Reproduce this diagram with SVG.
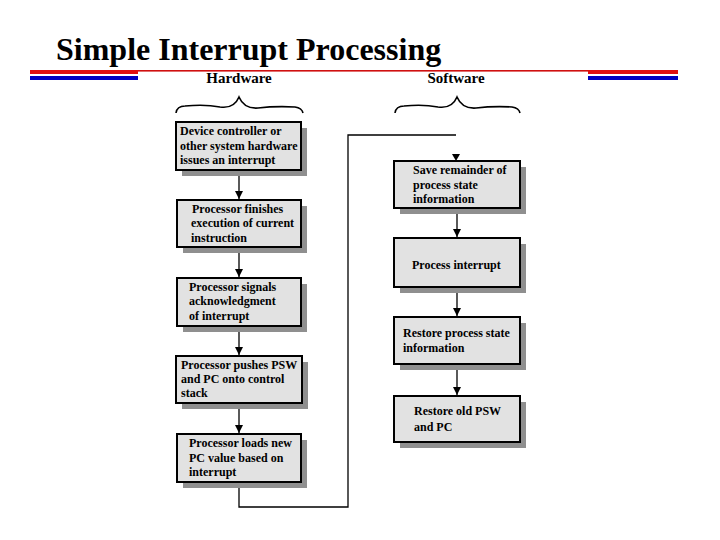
<svg xmlns="http://www.w3.org/2000/svg" width="720" height="540" viewBox="0 0 720 540">
<defs>
<style>
.t{font-family:"Liberation Serif","Times New Roman",serif;font-weight:bold;font-size:12px;fill:#000}
.h{font-family:"Liberation Serif","Times New Roman",serif;font-weight:bold;font-size:15px;fill:#000}
.box{fill:#e2e2e2;stroke:#000;stroke-width:2}
.sh{fill:#8f8f8f}
.c{fill:none;stroke:#000;stroke-width:1.3}
.br{fill:none;stroke:#000;stroke-width:1.6}
</style>
<marker id="a" viewBox="0 0 10 10" refX="10" refY="5" markerWidth="8" markerHeight="8" orient="auto" markerUnits="userSpaceOnUse">
<path d="M0,0 L10,5 L0,10 z" fill="#000"/>
</marker>
</defs>
<rect width="720" height="540" fill="#fff"/>
<text x="56" y="60" style="font-family:'Liberation Serif','Times New Roman',serif;font-weight:bold;font-size:32px">Simple Interrupt Processing</text>
<rect x="30" y="70" width="108" height="4" fill="#e01010"/>
<rect x="30" y="76" width="108" height="4" fill="#0000c0"/>
<rect x="138" y="70" width="450" height="1.6" fill="#d01010"/>
<rect x="588" y="70" width="90" height="4" fill="#e01010"/>
<rect x="588" y="76" width="90" height="4" fill="#0000c0"/>
<text class="h" x="239" y="83" text-anchor="middle">Hardware</text>
<text class="h" x="456" y="83" text-anchor="middle">Software</text>
<path class="br" d="M176,113 Q177,106 185,106 Q205,104 220,107 Q234,109 239,97 Q244,109 258,108 Q275,106 295,107 Q302,108 303,113"/>
<path class="br" d="M395,113 Q396,106 404,106 Q423,104 438,107 Q452,109 457,97 Q462,109 476,108 Q493,106 512,107 Q519,108 520,113"/>
<g id="connectors">
<path class="c" d="M239,170 V199" marker-end="url(#a)"/>
<path class="c" d="M239,248 V277" marker-end="url(#a)"/>
<path class="c" d="M239,326 V355" marker-end="url(#a)"/>
<path class="c" d="M239,404 V433" marker-end="url(#a)"/>
<path class="c" d="M239,482 V507 H348 V135 H456"/>
<path d="M452,154 L460,154 L456,161 z" fill="#000"/>
<path class="c" d="M457,208 V237" marker-end="url(#a)"/>
<path class="c" d="M457,287 V316" marker-end="url(#a)"/>
<path class="c" d="M457,364 V395" marker-end="url(#a)"/>
</g>
<g id="hw1"><rect class="sh" x="182" y="128" width="125" height="48"/><rect class="box" x="176" y="122" width="125" height="48"/>
<text class="t" x="180" y="135">Device controller or</text><text class="t" x="180" y="150">other system hardware</text><text class="t" x="180" y="164">issues an interrupt</text></g>
<g id="hw2"><rect class="sh" x="183" y="206" width="124" height="47"/><rect class="box" x="177" y="200" width="124" height="47"/>
<text class="t" x="192" y="213">Processor finishes</text><text class="t" x="191" y="227">execution of current</text><text class="t" x="191" y="242">instruction</text></g>
<g id="hw3"><rect class="sh" x="183" y="284" width="124" height="48"/><rect class="box" x="177" y="278" width="124" height="48"/>
<text class="t" x="189" y="291">Processor signals</text><text class="t" x="189" y="305">acknowledgment</text><text class="t" x="189" y="320">of interrupt</text></g>
<g id="hw4"><rect class="sh" x="182" y="362" width="126" height="47"/><rect class="box" x="176" y="356" width="126" height="47"/>
<text class="t" x="181" y="369">Processor pushes PSW</text><text class="t" x="181" y="383">and PC onto control</text><text class="t" x="181" y="397">stack</text></g>
<g id="hw5"><rect class="sh" x="183" y="440" width="124" height="48"/><rect class="box" x="177" y="434" width="124" height="48"/>
<text class="t" x="189" y="447">Processor loads new</text><text class="t" x="189" y="462">PC value based on</text><text class="t" x="189" y="476">interrupt</text></g>
<g id="sw1"><rect class="sh" x="400" y="167" width="126" height="47"/><rect class="box" x="394" y="161" width="126" height="47"/>
<text class="t" x="413" y="174">Save remainder of</text><text class="t" x="413" y="189">process state</text><text class="t" x="413" y="203">information</text></g>
<g id="sw2"><rect class="sh" x="400" y="244" width="126" height="49"/><rect class="box" x="394" y="238" width="126" height="49"/>
<text class="t" x="412" y="269">Process interrupt</text></g>
<g id="sw3"><rect class="sh" x="400" y="323" width="126" height="47"/><rect class="box" x="394" y="317" width="126" height="47"/>
<text class="t" x="403" y="337">Restore process state</text><text class="t" x="403" y="352">information</text></g>
<g id="sw4"><rect class="sh" x="400" y="402" width="126" height="46"/><rect class="box" x="394" y="396" width="126" height="46"/>
<text class="t" x="414" y="415">Restore old PSW</text><text class="t" x="414" y="431">and PC</text></g>
</svg>
